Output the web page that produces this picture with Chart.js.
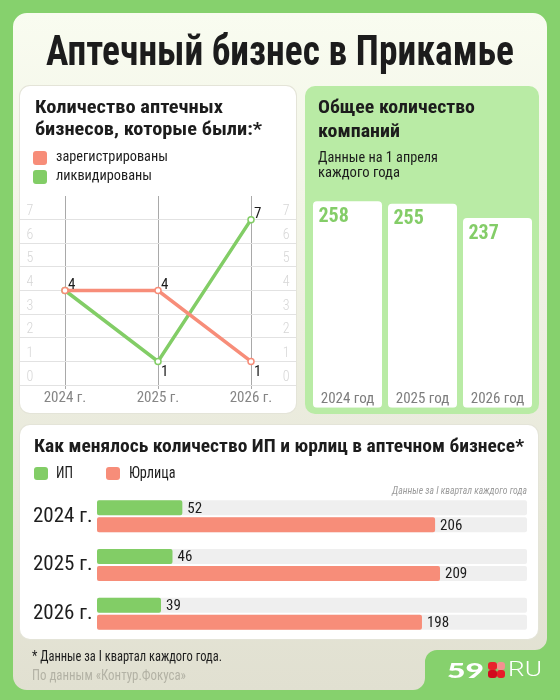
<!DOCTYPE html>
<html><head><meta charset="utf-8">
<script src="https://cdn.jsdelivr.net/npm/chart.js@4.4.1/dist/chart.umd.min.js"></script>
<style>
html,body{margin:0;padding:0;width:560px;height:700px;overflow:hidden;background:#86d16d;}
#bg{position:absolute;left:0;top:0;}
.t{position:absolute;white-space:nowrap;transform-origin:left center;line-height:1;}
.card{position:absolute;border-radius:10px;overflow:hidden;}
.sq{position:absolute;border-radius:3px;}
canvas.c{position:absolute;}
</style></head><body>
<canvas id="bg" width="560" height="700"></canvas>
<div class="card" id="cardL" style="left:20px;top:86px;width:276px;height:327px;background:#fff;box-shadow:0 0 0 1px #e4e4d8;">
  <canvas class="c" id="lineChart" width="290" height="223" style="left:-7px;top:104px;"></canvas>
</div>
<div class="card" id="cardR" style="left:305px;top:86px;width:234px;height:328px;background:#b9eba5;">
  <canvas class="c" id="colChart" width="225" height="254" style="left:4.7px;top:74px;"></canvas>
</div>
<div class="card" id="cardB" style="left:20px;top:425px;width:518px;height:214px;background:#fff;box-shadow:0 0 0 1px #e4e4d8;"></div>
<canvas class="c" id="barChart" width="498" height="151" style="left:33px;top:488px;"></canvas>
<script>
// ---- data ----
const years = [2024, 2025, 2026];
const lineLabels = years.map(y => y + ' г.');
const colLabels = years.map(y => y + ' год');
const registered = [4, 4, 1];
const liquidated = [4, 1, 7];
const totalCompanies = [258, 255, 237];
const soleProprietors = [52, 46, 39];
const legalEntities = [206, 209, 198];

const FONT = "'Roboto Condensed', Roboto, sans-serif";
const GREEN = '#82cd66';
const SALMON = '#f78d79';

// ---- background panel ----
(function(){
  const bg = document.getElementById('bg').getContext('2d');
  bg.fillStyle = '#86d16d'; bg.fillRect(0,0,560,700);
  const g = bg.createLinearGradient(0,13,0,690);
  g.addColorStop(0,'#f9fcf0'); g.addColorStop(1,'#e1e0d1');
  bg.fillStyle = g;
  const L=13,T=13,R=547,B=690,NX=425,NY=650,r=14,r2=12;
  bg.beginPath();
  bg.moveTo(L+r,T);
  bg.arcTo(R,T,R,T+r,r);
  bg.arcTo(R,NY,R-r,NY,r2);
  bg.arcTo(NX,NY,NX,NY+r2,r2);
  bg.arcTo(NX,B,NX-r2,B,r2);
  bg.arcTo(L,B,L,B-r,r);
  bg.arcTo(L,T,L+r,T,r);
  bg.closePath(); bg.fill();
})();

// ---- text helper ----
function T(txt, x, cy, size, o) {
  o = o || {};
  const d = document.createElement('div');
  d.className = 't';
  d.textContent = txt;
  d.style.fontSize = size + 'px';
  d.style.fontWeight = o.w || 400;
  d.style.color = o.c || '#1c1c1c';
  d.style.fontFamily = o.f || FONT;
  if (o.i) d.style.fontStyle = 'italic';
  d.style.top = (cy - size * 0.49) + 'px';
  d.style.left = '0px';
  document.body.appendChild(d);
  const w = d.getBoundingClientRect().width;
  const tw = o.tw || w;
  let left = x;
  if (o.align === 'center') left = x - tw / 2;
  if (o.align === 'right') left = x - tw;
  d.style.left = left + 'px';
  d.style.transform = 'scaleX(' + (tw / w) + ')';
  return d;
}
function SQ(x, y, w, h, c) {
  const d = document.createElement('div');
  d.className = 'sq';
  d.style.cssText += `left:${x}px;top:${y}px;width:${w}px;height:${h}px;background:${c};`;
  document.body.appendChild(d);
}

T('Аптечный бизнес в Прикамье', 280, 50, 43, {w:700, tw:468, align:'center'});
T('Количество аптечных', 35, 106.7, 19, {w:700, tw:188});
T('бизнесов, которые были:*', 35, 128.3, 19, {w:700, tw:227});
SQ(33,151,14,14,SALMON); SQ(33,170,14,14,GREEN);
T('зарегистрированы', 56, 156.5, 15, {tw:112});
T('ликвидированы', 56, 175.7, 15, {tw:96});
T('Общее количество', 318, 106.7, 19, {w:700, tw:157});
T('компаний', 318, 130.7, 19, {w:700, tw:82});
T('Данные на 1 апреля', 318, 156.5, 14, {tw:120});
T('каждого года', 318, 171.7, 14, {tw:82});
T('Как менялось количество ИП и юрлиц в аптечном бизнесе*', 33.5, 445, 19, {w:700, tw:490});
SQ(33.5,467,14,13,GREEN); SQ(106,467,14,13,SALMON);
T('ИП', 55.5, 473, 16, {tw:17});
T('Юрлица', 129, 473, 16, {tw:46.5});
T('Данные за I квартал каждого года', 527, 490, 11, {i:true, c:'#9b9b9b', tw:135, align:'right'});
T('* Данные за I квартал каждого года.', 32, 656, 14, {tw:190});
T('По данным «Контур.Фокуса»', 32, 675, 14, {c:'#b3b2a5', tw:154});
// logo
T('59', 447, 669.5, 21, {w:900, c:'#fff', tw:37, f:"Lato, 'DejaVu Sans', sans-serif"});
SQ(488,662,9,8,'#e8232c'); SQ(497,662,8,8,'#f59090'); SQ(488,670,9,8,'#d10a1c'); SQ(497,670,8,8,'#e81c28');
T('RU', 508, 669.5, 21, {w:300, c:'#fff', tw:34, f:"Roboto, sans-serif"});

// ---- Chart.js ----
Chart.defaults.font.family = FONT;

const zeroPadY = s => { s.width = 0; s.paddingTop = 0; s.paddingBottom = 0; };

const lineValueLabels = {
  id: 'lineValueLabels',
  afterDatasetsDraw(chart) {
    const ctx = chart.ctx; const seen = new Set();
    ctx.save();
    ctx.font = '15px ' + FONT; ctx.fillStyle = '#1c1c1c'; ctx.textAlign = 'left'; ctx.textBaseline = 'alphabetic';
    chart.data.datasets.forEach((ds, di) => {
      chart.getDatasetMeta(di).data.forEach((pt, i) => {
        const v = ds.data[i]; const key = i + '|' + v;
        if (seen.has(key)) return; seen.add(key);
        const below = i > 0 && v < ds.data[i-1];
        ctx.fillText(String(v), pt.x + 3, below ? pt.y + 15 : pt.y - 2);
      });
    });
    ctx.restore();
  }
};

const yTickCommon = {
  stepSize: 1, mirror: true, labelOffset: -8, color: '#d6d6d6',
  font: {size: 14, weight: 300}
};
const dropTop = s => { s.ticks = s.ticks.filter(t => t.value <= 7); };

new Chart(document.getElementById('lineChart'), {
  type: 'line',
  data: { labels: lineLabels, datasets: [
    { label: 'зарегистрированы', data: registered, borderColor: SALMON, backgroundColor: SALMON,
      borderWidth: 3.5, pointRadius: 3, pointBorderWidth: 1.5, pointBackgroundColor: '#fff', pointBorderColor: SALMON, tension: 0, clip: false },
    { label: 'ликвидированы', data: liquidated, borderColor: GREEN, backgroundColor: GREEN,
      borderWidth: 3.5, pointRadius: 3, pointBorderWidth: 1.5, pointBackgroundColor: '#fff', pointBorderColor: GREEN, tension: 0, clip: false }
  ]},
  options: {
    responsive: false, animation: false, devicePixelRatio: 1,
    layout: { padding: { top: 6, bottom: 6, left: 0, right: 0 } },
    plugins: { legend: { display: false }, tooltip: { enabled: false } },
    scales: {
      x: { offset: true, grid: { offset: false, color: '#a9a9a9', tickLength: 4 }, border: { display: false },
           afterFit: s => { s.paddingLeft = 0; s.paddingRight = 0; },
           ticks: { padding: 0, color: '#858585', font: { size: 15 } } },
      y: { type: 'linear', position: 'left', min: 0, max: 8, afterFit: zeroPadY, afterBuildTicks: dropTop,
           grid: { drawTicks: false, color: '#e2e2e2', lineWidth: 1 },
           border: { display: false }, ticks: Object.assign({ padding: 8 }, yTickCommon) },
      y2: { type: 'linear', position: 'right', min: 0, max: 8, afterFit: zeroPadY, afterBuildTicks: dropTop,
           grid: { display: false }, border: { display: false }, ticks: Object.assign({ padding: -8 }, yTickCommon) }
    }
  },
  plugins: [lineValueLabels]
});

const colTexts = {
  id: 'colTexts',
  afterDatasetsDraw(chart) {
    const ctx = chart.ctx; ctx.save();
    const ds = chart.data.datasets[0];
    chart.getDatasetMeta(0).data.forEach((bar, i) => {
      ctx.font = '700 20px ' + FONT; ctx.fillStyle = '#84cd68'; ctx.textAlign = 'left'; ctx.textBaseline = 'alphabetic';
      ctx.fillText(String(ds.data[i]), bar.x - bar.width / 2 + 5.5, bar.y + 20.5);
      ctx.font = '15px ' + FONT; ctx.fillStyle = '#7d7d7d'; ctx.textAlign = 'center';
      ctx.fillText(chart.data.labels[i], bar.x, bar.base - 4.5);
    });
    ctx.restore();
  }
};

new Chart(document.getElementById('colChart'), {
  type: 'bar',
  data: { labels: colLabels, datasets: [{ label: 'Общее количество компаний', data: totalCompanies,
    backgroundColor: '#ffffff', borderRadius: 4, borderSkipped: false, categoryPercentage: 1, barPercentage: 0.92 }] },
  options: {
    responsive: false, animation: false, devicePixelRatio: 1,
    layout: { padding: { top: 7.7, bottom: 6.3, left: 0, right: 0 } },
    plugins: { legend: { display: false }, tooltip: { enabled: false } },
    scales: { x: { display: false }, y: { display: false, min: 0, max: 300 } }
  },
  plugins: [colTexts]
});

const tracks = {
  id: 'tracks',
  beforeDatasetsDraw(chart) {
    const ctx = chart.ctx, a = chart.chartArea; ctx.save(); ctx.fillStyle = '#efefef';
    chart.data.datasets.forEach((ds, di) => {
      chart.getDatasetMeta(di).data.forEach(bar => {
        ctx.beginPath();
        ctx.roundRect(a.left, bar.y - bar.height / 2, a.right - a.left, bar.height, 2);
        ctx.fill();
      });
    });
    ctx.restore();
  }
};
const barValues = {
  id: 'barValues',
  afterDatasetsDraw(chart) {
    const ctx = chart.ctx; ctx.save();
    ctx.font = '15px ' + FONT; ctx.fillStyle = '#1c1c1c'; ctx.textAlign = 'left'; ctx.textBaseline = 'middle';
    chart.data.datasets.forEach((ds, di) => {
      chart.getDatasetMeta(di).data.forEach((bar, i) => {
        ctx.fillText(String(ds.data[i]), bar.x + 5, bar.y + 1);
      });
    });
    ctx.restore();
  }
};

new Chart(document.getElementById('barChart'), {
  type: 'bar',
  data: { labels: lineLabels, datasets: [
    { label: 'ИП', data: soleProprietors, backgroundColor: GREEN },
    { label: 'Юрлица', data: legalEntities, backgroundColor: SALMON }
  ]},
  options: {
    indexAxis: 'y', responsive: false, animation: false, devicePixelRatio: 1,
    layout: { padding: { top: 4, bottom: 1, left: 0, right: 4 } },
    datasets: { bar: { categoryPercentage: 0.7, barPercentage: 0.88, borderRadius: 2, borderSkipped: false } },
    plugins: { legend: { display: false }, tooltip: { enabled: false } },
    scales: {
      x: { display: false, min: 0, max: 262 },
      y: { afterFit: s => { s.width = 64; s.paddingTop = 0; s.paddingBottom = 0; }, grid: { display: false }, border: { display: false },
           ticks: { crossAlign: 'far', color: '#1e1e1e', font: { size: 21 } } }
    }
  },
  plugins: [tracks, barValues]
});
</script>
</body></html>
